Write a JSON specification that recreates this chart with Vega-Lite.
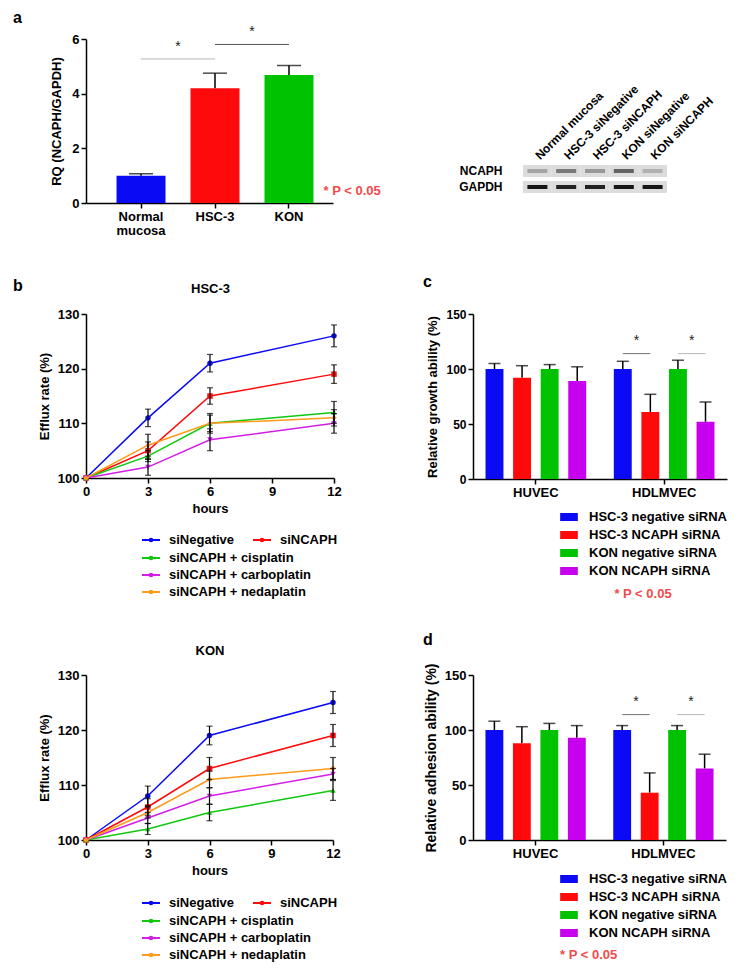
{
  "$schema": "https://vega.github.io/schema/vega-lite/v6.json",
  "background": "white",
  "padding": {"left": 13, "top": 10, "right": 5, "bottom": 5},
  "config": {
    "font": "Liberation Sans",
    "view": {"stroke": null},
    "axis": {"labelFont": "Liberation Sans", "labelFontSize": 13, "labelFontWeight": "bold", "labelColor": "#000", "titleFont": "Liberation Sans", "titleFontSize": 13, "titleFontWeight": "bold", "titleColor": "#000", "domainColor": "#000", "domainWidth": 1.5, "tickColor": "#000", "tickWidth": 1.5, "tickSize": 5, "grid": false, "labelPadding": 2, "labelFlush": false, "labelOverlap": false},
    "legend": {"labelFont": "Liberation Sans", "labelFontSize": 13, "labelFontWeight": "bold", "labelColor": "#000", "titleFont": "Liberation Sans"},
    "title": {"font": "Liberation Sans", "fontSize": 16, "fontWeight": "bold", "color": "#000"}
  },
  "datasets": {
    "rq": [
      {"sample": "Normal mucosa", "value": 1.0, "hi": 1.07},
      {"sample": "HSC-3", "value": 4.2, "hi": 4.75},
      {"sample": "KON", "value": 4.68, "hi": 5.03}
    ],
    "rq_sig": [
      {"from": "Normal mucosa", "to": "HSC-3", "line": 5.27, "star": 5.7, "label": "*"},
      {"from": "HSC-3", "to": "KON", "line": 5.8, "star": 6.25, "label": "*"}
    ],
    "blot": [
      {"lane": "Normal mucosa", "protein": "NCAPH", "intensity": 0.25},
      {"lane": "HSC-3 siNegative", "protein": "NCAPH", "intensity": 0.45},
      {"lane": "HSC-3 siNCAPH", "protein": "NCAPH", "intensity": 0.3},
      {"lane": "KON siNegative", "protein": "NCAPH", "intensity": 0.55},
      {"lane": "KON siNCAPH", "protein": "NCAPH", "intensity": 0.2},
      {"lane": "Normal mucosa", "protein": "GAPDH", "intensity": 0.9},
      {"lane": "HSC-3 siNegative", "protein": "GAPDH", "intensity": 0.85},
      {"lane": "HSC-3 siNCAPH", "protein": "GAPDH", "intensity": 0.85},
      {"lane": "KON siNegative", "protein": "GAPDH", "intensity": 0.9},
      {"lane": "KON siNCAPH", "protein": "GAPDH", "intensity": 0.9}
    ],
    "hsc3": [
      {"series": "siNegative", "hours": 0, "value": 100, "lo": 100, "hi": 100},
      {"series": "siNegative", "hours": 3, "value": 111, "lo": 109.4, "hi": 112.6},
      {"series": "siNegative", "hours": 6, "value": 121, "lo": 119.4, "hi": 122.6},
      {"series": "siNegative", "hours": 12, "value": 126, "lo": 124, "hi": 128},
      {"series": "siNCAPH", "hours": 0, "value": 100, "lo": 100, "hi": 100},
      {"series": "siNCAPH", "hours": 3, "value": 105, "lo": 103.4, "hi": 106.6},
      {"series": "siNCAPH", "hours": 6, "value": 115, "lo": 113.5, "hi": 116.5},
      {"series": "siNCAPH", "hours": 12, "value": 119, "lo": 117.3, "hi": 120.7},
      {"series": "siNCAPH + cisplatin", "hours": 0, "value": 100, "lo": 100, "hi": 100},
      {"series": "siNCAPH + cisplatin", "hours": 3, "value": 104, "lo": 103, "hi": 105},
      {"series": "siNCAPH + cisplatin", "hours": 6, "value": 110, "lo": 108.5, "hi": 111.5},
      {"series": "siNCAPH + cisplatin", "hours": 12, "value": 112, "lo": 110, "hi": 114},
      {"series": "siNCAPH + carboplatin", "hours": 0, "value": 100, "lo": 100, "hi": 100},
      {"series": "siNCAPH + carboplatin", "hours": 3, "value": 102, "lo": 100.5, "hi": 103.5},
      {"series": "siNCAPH + carboplatin", "hours": 6, "value": 107, "lo": 105, "hi": 109},
      {"series": "siNCAPH + carboplatin", "hours": 12, "value": 110, "lo": 108.2, "hi": 111.8},
      {"series": "siNCAPH + nedaplatin", "hours": 0, "value": 100, "lo": 100, "hi": 100},
      {"series": "siNCAPH + nedaplatin", "hours": 3, "value": 106, "lo": 104, "hi": 108},
      {"series": "siNCAPH + nedaplatin", "hours": 6, "value": 110, "lo": 108.2, "hi": 111.8},
      {"series": "siNCAPH + nedaplatin", "hours": 12, "value": 111, "lo": 109.5, "hi": 112.5}
    ],
    "kon": [
      {"series": "siNegative", "hours": 0, "value": 100, "lo": 100, "hi": 100},
      {"series": "siNegative", "hours": 3, "value": 108, "lo": 106.2, "hi": 109.8},
      {"series": "siNegative", "hours": 6, "value": 119, "lo": 117.3, "hi": 120.7},
      {"series": "siNegative", "hours": 12, "value": 125, "lo": 123, "hi": 127},
      {"series": "siNCAPH", "hours": 0, "value": 100, "lo": 100, "hi": 100},
      {"series": "siNCAPH", "hours": 3, "value": 106, "lo": 104.5, "hi": 107.5},
      {"series": "siNCAPH", "hours": 6, "value": 113, "lo": 111, "hi": 115},
      {"series": "siNCAPH", "hours": 12, "value": 119, "lo": 117, "hi": 121},
      {"series": "siNCAPH + cisplatin", "hours": 0, "value": 100, "lo": 100, "hi": 100},
      {"series": "siNCAPH + cisplatin", "hours": 3, "value": 102, "lo": 101, "hi": 103},
      {"series": "siNCAPH + cisplatin", "hours": 6, "value": 105, "lo": 103.5, "hi": 106.5},
      {"series": "siNCAPH + cisplatin", "hours": 12, "value": 109, "lo": 107.2, "hi": 110.8},
      {"series": "siNCAPH + carboplatin", "hours": 0, "value": 100, "lo": 100, "hi": 100},
      {"series": "siNCAPH + carboplatin", "hours": 3, "value": 104, "lo": 103, "hi": 105},
      {"series": "siNCAPH + carboplatin", "hours": 6, "value": 108, "lo": 106.5, "hi": 109.5},
      {"series": "siNCAPH + carboplatin", "hours": 12, "value": 112, "lo": 111, "hi": 113},
      {"series": "siNCAPH + nedaplatin", "hours": 0, "value": 100, "lo": 100, "hi": 100},
      {"series": "siNCAPH + nedaplatin", "hours": 3, "value": 105, "lo": 104, "hi": 106},
      {"series": "siNCAPH + nedaplatin", "hours": 6, "value": 111, "lo": 109.5, "hi": 112.5},
      {"series": "siNCAPH + nedaplatin", "hours": 12, "value": 113, "lo": 111, "hi": 115}
    ],
    "growth": [
      {"cell": "HUVEC", "group": "HSC-3 negative siRNA", "value": 100, "hi": 105},
      {"cell": "HUVEC", "group": "HSC-3 NCAPH siRNA", "value": 92, "hi": 103},
      {"cell": "HUVEC", "group": "KON negative siRNA", "value": 100, "hi": 104},
      {"cell": "HUVEC", "group": "KON NCAPH siRNA", "value": 89, "hi": 102},
      {"cell": "HDLMVEC", "group": "HSC-3 negative siRNA", "value": 100, "hi": 107},
      {"cell": "HDLMVEC", "group": "HSC-3 NCAPH siRNA", "value": 61, "hi": 77},
      {"cell": "HDLMVEC", "group": "KON negative siRNA", "value": 100, "hi": 108},
      {"cell": "HDLMVEC", "group": "KON NCAPH siRNA", "value": 52, "hi": 70}
    ],
    "adhesion": [
      {"cell": "HUVEC", "group": "HSC-3 negative siRNA", "value": 100, "hi": 108},
      {"cell": "HUVEC", "group": "HSC-3 NCAPH siRNA", "value": 88, "hi": 103},
      {"cell": "HUVEC", "group": "KON negative siRNA", "value": 100, "hi": 106},
      {"cell": "HUVEC", "group": "KON NCAPH siRNA", "value": 93, "hi": 104},
      {"cell": "HDLMVEC", "group": "HSC-3 negative siRNA", "value": 100, "hi": 104},
      {"cell": "HDLMVEC", "group": "HSC-3 NCAPH siRNA", "value": 43, "hi": 61},
      {"cell": "HDLMVEC", "group": "KON negative siRNA", "value": 100, "hi": 104},
      {"cell": "HDLMVEC", "group": "KON NCAPH siRNA", "value": 65, "hi": 78}
    ],
    "sig_cd": [
      {"cell": "HDLMVEC", "pair": "HSC-3", "line": 114, "star": 125.5, "label": "*"},
      {"cell": "HDLMVEC", "pair": "KON", "line": 114, "star": 125.5, "label": "*"}
    ]
  },
  "columns": 2,
  "align": "each",
  "spacing": {"column": 42, "row": 30},
  "resolve": {"scale": {"color": "independent", "shape": "independent", "opacity": "independent"}},
  "concat": [
    {
      "title": {"text": "a", "anchor": "start", "frame": "group", "dx": -73, "offset": -1},
      "width": 247, "height": 164,
      "layer": [
        {"data": {"name": "rq"}, "mark": {"type": "rule", "color": "#000", "strokeWidth": 1.5},
         "encoding": {
           "x": {"field": "sample", "type": "nominal", "sort": null, "scale": {"domain": ["Normal mucosa", "HSC-3", "KON"], "paddingInner": 0.338, "paddingOuter": 0.338, "align": 0.61}, "axis": {"title": null, "labelAngle": 0, "labelExpr": "split(datum.label, ' ')", "labelLineHeight": 14}},
           "y": {"field": "value", "type": "quantitative", "scale": {"domain": [0, 6], "nice": false}, "axis": {"title": "RQ (NCAPH/GAPDH)", "values": [0, 2, 4, 6], "titlePadding": 8}},
           "y2": {"field": "hi"}}},
        {"data": {"name": "rq"}, "mark": {"type": "tick", "orient": "horizontal", "color": "#000", "size": 24, "thickness": 1.5},
         "encoding": {"x": {"field": "sample", "type": "nominal", "sort": null}, "y": {"field": "hi", "type": "quantitative", "axis": null}}},
        {"data": {"name": "rq"}, "mark": {"type": "bar"},
         "encoding": {"x": {"field": "sample", "type": "nominal", "sort": null}, "y": {"field": "value", "type": "quantitative", "axis": null},
           "color": {"field": "sample", "type": "nominal", "sort": null, "scale": {"domain": ["Normal mucosa", "HSC-3", "KON"], "range": ["#0a0af5", "#ff0a0a", "#00c200"]}, "legend": null}}},
        {"data": {"name": "rq_sig"}, "transform": [{"filter": "datum.from == 'Normal mucosa'"}], "mark": {"type": "rule", "color": "#b4b4b4", "strokeWidth": 1},
         "encoding": {"x": {"field": "from", "type": "nominal"}, "x2": {"field": "to"}, "y": {"field": "line", "type": "quantitative", "axis": null}}},
        {"data": {"name": "rq_sig"}, "transform": [{"filter": "datum.from == 'HSC-3'"}], "mark": {"type": "rule", "color": "#555555", "strokeWidth": 1},
         "encoding": {"x": {"field": "from", "type": "nominal"}, "x2": {"field": "to"}, "y": {"field": "line", "type": "quantitative", "axis": null}}},
        {"data": {"name": "rq_sig"}, "mark": {"type": "text", "fontSize": 14, "baseline": "middle", "color": "#222"},
         "encoding": {"x": {"field": "from", "type": "nominal", "bandPosition": 1.255}, "text": {"field": "label"},
           "y": {"field": "star", "type": "quantitative", "axis": {"orient": "right", "labels": false, "ticks": false, "domain": false, "title": "* P < 0.05", "titleAngle": 0, "titleAlign": "left", "titleBaseline": "bottom", "titleX": -10, "titleY": 158, "titleColor": "#f24a4a", "titleFontSize": 13}}}}
      ],
      "resolve": {"axis": {"y": "independent"}}
    },
    {
      "width": 254, "height": 205,
      "data": {"name": "blot"},
      "encoding": {
        "x": {"field": "lane", "type": "nominal", "sort": null, "scale": {"domain": ["Normal mucosa", "HSC-3 siNegative", "HSC-3 siNCAPH", "KON siNegative", "KON siNCAPH"], "range": [50, 194], "paddingInner": 0, "paddingOuter": 0},
          "axis": {"orient": "top", "title": null, "domain": false, "ticks": false, "labelAngle": -45, "labelAlign": "left", "labelBaseline": "middle", "labelFontSize": 12, "labelPadding": 4, "offset": -122}},
        "y": {"field": "protein", "type": "nominal", "sort": null, "scale": {"domain": ["NCAPH", "GAPDH"], "range": [126, 154], "paddingInner": 0.25, "paddingOuter": 0},
          "axis": {"title": null, "domain": false, "ticks": false, "labelFontSize": 12, "labelPadding": 2, "offset": -31}}
      },
      "layer": [
        {"mark": {"type": "rect", "color": "#dcdcdc"}},
        {"mark": {"type": "tick", "orient": "horizontal", "color": "#000", "size": 20, "thickness": 4},
         "encoding": {"opacity": {"field": "intensity", "type": "quantitative", "scale": {"domain": [0, 1], "range": [0, 1]}, "legend": null}}}
      ]
    },
    {
      "title": {"text": "b", "anchor": "start", "frame": "group", "dx": -73, "offset": -12},
      "width": 248, "height": 164,
      "data": {"name": "hsc3"},
      "layer": [
        {"transform": [{"filter": {"field": "series", "oneOf": ["siNegative", "siNCAPH"]}}],
         "encoding": {
           "x": {"field": "hours", "type": "quantitative", "scale": {"domain": [0, 12], "nice": false}, "axis": {"values": [0, 3, 6, 9, 12], "title": "hours", "titlePadding": 4}},
           "y": {"field": "value", "type": "quantitative", "scale": {"domain": [100, 130], "nice": false, "zero": false}, "axis": {"values": [100, 110, 120, 130], "title": "Efflux rate (%)", "titlePadding": 6}},
           "color": {"field": "series", "type": "nominal", "sort": null, "scale": {"domain": ["siNegative", "siNCAPH"], "range": ["#0a0af5", "#ff0a0a"]},
             "legend": {"orient": "none", "legendX": 55, "legendY": 216, "columns": 2, "title": null, "symbolType": "M-1,0H1M-0.15,0A0.15,0.15,0,1,0,0.15,0A0.15,0.15,0,1,0,-0.15,0", "symbolSize": 324, "symbolStrokeWidth": 2, "columnPadding": 14, "labelOffset": 8, "rowPadding": 0}}},
         "layer": [
           {"mark": {"type": "line", "strokeWidth": 1.5}},
           {"mark": {"type": "point", "filled": true, "size": 30, "opacity": 1}, "encoding": {"shape": {"condition": [{"test": "datum.series == 'siNCAPH'", "value": "square"}], "value": "circle"}}}
         ]},
        {"transform": [{"filter": {"field": "series", "oneOf": ["siNCAPH + cisplatin", "siNCAPH + carboplatin", "siNCAPH + nedaplatin"]}}],
         "encoding": {
           "x": {"field": "hours", "type": "quantitative", "axis": null},
           "y": {"field": "value", "type": "quantitative"},
           "color": {"field": "series", "type": "nominal", "sort": null, "scale": {"domain": ["siNCAPH + cisplatin", "siNCAPH + carboplatin", "siNCAPH + nedaplatin"], "range": ["#10c810", "#d21ee6", "#ff9a1a"]},
             "legend": {"orient": "none", "legendX": 55, "legendY": 234, "columns": 1, "title": null, "symbolType": "M-1,0H1M-0.15,0A0.15,0.15,0,1,0,0.15,0A0.15,0.15,0,1,0,-0.15,0", "symbolSize": 324, "symbolStrokeWidth": 2, "labelOffset": 8, "rowPadding": 0}}},
         "layer": [
           {"mark": {"type": "line", "strokeWidth": 1.5}},
           {"mark": {"type": "point", "filled": true, "size": 30, "opacity": 1}, "encoding": {"shape": {"condition": [{"test": "datum.series == 'siNCAPH + carboplatin'", "value": "triangle-down"}, {"test": "datum.series == 'siNCAPH + nedaplatin'", "value": "diamond"}], "value": "triangle-up"}}}
         ]},
        {"transform": [{"filter": "datum.hours > 0"}], "mark": {"type": "rule", "color": "#000", "strokeWidth": 1.2},
         "encoding": {"x": {"field": "hours", "type": "quantitative", "axis": null}, "y": {"field": "lo", "type": "quantitative"}, "y2": {"field": "hi"}}},
        {"transform": [{"filter": "datum.hours > 0"}], "mark": {"type": "tick", "orient": "horizontal", "color": "#000", "size": 6, "thickness": 1.2},
         "encoding": {"x": {"field": "hours", "type": "quantitative", "axis": {"orient": "top", "title": "HSC-3", "labels": false, "ticks": false, "domain": false, "titlePadding": 19}}, "y": {"field": "hi", "type": "quantitative"}}},
        {"transform": [{"filter": "datum.hours > 0"}], "mark": {"type": "tick", "orient": "horizontal", "color": "#000", "size": 6, "thickness": 1.2},
         "encoding": {"x": {"field": "hours", "type": "quantitative", "axis": null}, "y": {"field": "lo", "type": "quantitative"}}}
      ],
      "resolve": {"scale": {"color": "independent"}, "axis": {"x": "independent"}}
    },
    {
      "title": {"text": "c", "anchor": "start", "frame": "group", "dx": -50, "offset": 18},
      "width": 254, "height": 165,
      "layer": [
        {"data": {"name": "growth"},
         "encoding": {
           "x": {"field": "cell", "type": "nominal", "sort": null, "scale": {"domain": ["HUVEC", "HDLMVEC"], "paddingInner": 0.14, "paddingOuter": 0.06}, "axis": {"title": null, "labelAngle": 0}},
           "xOffset": {"field": "group", "type": "nominal", "sort": null, "scale": {"domain": ["HSC-3 negative siRNA", "HSC-3 NCAPH siRNA", "KON negative siRNA", "KON NCAPH siRNA"], "paddingInner": 0.35, "paddingOuter": 0.175}},
           "y": {"field": "value", "type": "quantitative", "scale": {"domain": [0, 150], "nice": false}, "axis": {"title": "Relative growth ability (%)", "values": [0, 50, 100, 150], "labelFontSize": 12, "titleFontSize": 13, "titlePadding": 6}}
         },
         "layer": [
           {"mark": {"type": "rule", "color": "#000", "strokeWidth": 1.5}, "encoding": {"y2": {"field": "hi"}}},
           {"mark": {"type": "tick", "orient": "horizontal", "color": "#000", "size": 12, "thickness": 1.5}, "encoding": {"y": {"field": "hi", "type": "quantitative"}}},
           {"mark": {"type": "bar"},
            "encoding": {"color": {"field": "group", "type": "nominal", "sort": null, "scale": {"domain": ["HSC-3 negative siRNA", "HSC-3 NCAPH siRNA", "KON negative siRNA", "KON NCAPH siRNA"], "range": ["#0a0af5", "#ff0a0a", "#00c200", "#c800f0"]},
              "legend": {"orient": "none", "legendX": 87, "legendY": 194, "title": "* P < 0.05", "titleOrient": "bottom", "titleAnchor": "middle", "titleColor": "#f24a4a", "titleFontSize": 13, "titleFontWeight": "bold", "titlePadding": 10, "symbolType": "M-1,-0.45H1V0.45H-1Z", "symbolSize": 313, "symbolStrokeWidth": 0, "labelOffset": 11, "rowPadding": 2}}}}
         ]},
        {"data": {"name": "sig_cd"}, "transform": [{"filter": "datum.pair == 'HSC-3'"}], "mark": {"type": "tick", "orient": "horizontal", "color": "#333", "size": 27.5, "thickness": 1},
         "encoding": {"x": {"field": "cell", "type": "nominal"}, "xOffset": {"field": "pair", "type": "nominal", "scale": {"type": "band", "domain": ["HSC-3", "KON"], "paddingInner": 0, "paddingOuter": 0}}, "y": {"field": "line", "type": "quantitative"}}},
        {"data": {"name": "sig_cd"}, "transform": [{"filter": "datum.pair == 'KON'"}], "mark": {"type": "tick", "orient": "horizontal", "color": "#999", "size": 27.5, "thickness": 1},
         "encoding": {"x": {"field": "cell", "type": "nominal"}, "xOffset": {"field": "pair", "type": "nominal", "scale": {"type": "band", "domain": ["HSC-3", "KON"], "paddingInner": 0, "paddingOuter": 0}}, "y": {"field": "line", "type": "quantitative"}}},
        {"data": {"name": "sig_cd"}, "mark": {"type": "text", "fontSize": 14, "baseline": "middle", "color": "#222"},
         "encoding": {"x": {"field": "cell", "type": "nominal"}, "xOffset": {"field": "pair", "type": "nominal", "scale": {"type": "band", "domain": ["HSC-3", "KON"], "paddingInner": 0, "paddingOuter": 0}}, "y": {"field": "star", "type": "quantitative"}, "text": {"field": "label"}}}
      ],
      "resolve": {"scale": {"xOffset": "independent"}}
    },
    {
      "width": 247, "height": 165,
      "data": {"name": "kon"},
      "layer": [
        {"transform": [{"filter": {"field": "series", "oneOf": ["siNegative", "siNCAPH"]}}],
         "encoding": {
           "x": {"field": "hours", "type": "quantitative", "scale": {"domain": [0, 12], "nice": false}, "axis": {"values": [0, 3, 6, 9, 12], "title": "hours", "titlePadding": 4}},
           "y": {"field": "value", "type": "quantitative", "scale": {"domain": [100, 130], "nice": false, "zero": false}, "axis": {"values": [100, 110, 120, 130], "title": "Efflux rate (%)", "titlePadding": 6}},
           "color": {"field": "series", "type": "nominal", "sort": null, "scale": {"domain": ["siNegative", "siNCAPH"], "range": ["#0a0af5", "#ff0a0a"]},
             "legend": {"orient": "none", "legendX": 55, "legendY": 218, "columns": 2, "title": null, "symbolType": "M-1,0H1M-0.15,0A0.15,0.15,0,1,0,0.15,0A0.15,0.15,0,1,0,-0.15,0", "symbolSize": 324, "symbolStrokeWidth": 2, "columnPadding": 14, "labelOffset": 8, "rowPadding": 0}}},
         "layer": [
           {"mark": {"type": "line", "strokeWidth": 1.5}},
           {"mark": {"type": "point", "filled": true, "size": 30, "opacity": 1}, "encoding": {"shape": {"condition": [{"test": "datum.series == 'siNCAPH'", "value": "square"}], "value": "circle"}}}
         ]},
        {"transform": [{"filter": {"field": "series", "oneOf": ["siNCAPH + cisplatin", "siNCAPH + carboplatin", "siNCAPH + nedaplatin"]}}],
         "encoding": {
           "x": {"field": "hours", "type": "quantitative", "axis": null},
           "y": {"field": "value", "type": "quantitative"},
           "color": {"field": "series", "type": "nominal", "sort": null, "scale": {"domain": ["siNCAPH + cisplatin", "siNCAPH + carboplatin", "siNCAPH + nedaplatin"], "range": ["#10c810", "#d21ee6", "#ff9a1a"]},
             "legend": {"orient": "none", "legendX": 55, "legendY": 236, "columns": 1, "title": null, "symbolType": "M-1,0H1M-0.15,0A0.15,0.15,0,1,0,0.15,0A0.15,0.15,0,1,0,-0.15,0", "symbolSize": 324, "symbolStrokeWidth": 2, "labelOffset": 8, "rowPadding": 0}}},
         "layer": [
           {"mark": {"type": "line", "strokeWidth": 1.5}},
           {"mark": {"type": "point", "filled": true, "size": 30, "opacity": 1}, "encoding": {"shape": {"condition": [{"test": "datum.series == 'siNCAPH + carboplatin'", "value": "triangle-down"}, {"test": "datum.series == 'siNCAPH + nedaplatin'", "value": "diamond"}], "value": "triangle-up"}}}
         ]},
        {"transform": [{"filter": "datum.hours > 0"}], "mark": {"type": "rule", "color": "#000", "strokeWidth": 1.2},
         "encoding": {"x": {"field": "hours", "type": "quantitative", "axis": null}, "y": {"field": "lo", "type": "quantitative"}, "y2": {"field": "hi"}}},
        {"transform": [{"filter": "datum.hours > 0"}], "mark": {"type": "tick", "orient": "horizontal", "color": "#000", "size": 6, "thickness": 1.2},
         "encoding": {"x": {"field": "hours", "type": "quantitative", "axis": {"orient": "top", "title": "KON", "labels": false, "ticks": false, "domain": false, "titlePadding": 18}}, "y": {"field": "hi", "type": "quantitative"}}},
        {"transform": [{"filter": "datum.hours > 0"}], "mark": {"type": "tick", "orient": "horizontal", "color": "#000", "size": 6, "thickness": 1.2},
         "encoding": {"x": {"field": "hours", "type": "quantitative", "axis": null}, "y": {"field": "lo", "type": "quantitative"}}}
      ],
      "resolve": {"scale": {"color": "independent"}, "axis": {"x": "independent"}}
    },
    {
      "title": {"text": "d", "anchor": "start", "frame": "group", "dx": -50, "offset": 15},
      "width": 253, "height": 165,
      "layer": [
        {"data": {"name": "adhesion"},
         "encoding": {
           "x": {"field": "cell", "type": "nominal", "sort": null, "scale": {"domain": ["HUVEC", "HDLMVEC"], "paddingInner": 0.14, "paddingOuter": 0.06}, "axis": {"title": null, "labelAngle": 0}},
           "xOffset": {"field": "group", "type": "nominal", "sort": null, "scale": {"domain": ["HSC-3 negative siRNA", "HSC-3 NCAPH siRNA", "KON negative siRNA", "KON NCAPH siRNA"], "paddingInner": 0.35, "paddingOuter": 0.175}},
           "y": {"field": "value", "type": "quantitative", "scale": {"domain": [0, 150], "nice": false}, "axis": {"title": "Relative adhesion ability (%)", "values": [0, 50, 100, 150], "labelFontSize": 13, "titleFontSize": 14, "titlePadding": 6}}
         },
         "layer": [
           {"mark": {"type": "rule", "color": "#000", "strokeWidth": 1.5}, "encoding": {"y2": {"field": "hi"}}},
           {"mark": {"type": "tick", "orient": "horizontal", "color": "#000", "size": 12, "thickness": 1.5}, "encoding": {"y": {"field": "hi", "type": "quantitative"}}},
           {"mark": {"type": "bar"},
            "encoding": {"color": {"field": "group", "type": "nominal", "sort": null, "scale": {"domain": ["HSC-3 negative siRNA", "HSC-3 NCAPH siRNA", "KON negative siRNA", "KON NCAPH siRNA"], "range": ["#0a0af5", "#ff0a0a", "#00c200", "#c800f0"]},
              "legend": {"orient": "none", "legendX": 87, "legendY": 195, "title": "* P < 0.05", "titleOrient": "bottom", "titleAnchor": "start", "titleColor": "#f24a4a", "titleFontSize": 13, "titleFontWeight": "bold", "titlePadding": 9, "symbolType": "M-1,-0.45H1V0.45H-1Z", "symbolSize": 313, "symbolStrokeWidth": 0, "labelOffset": 11, "rowPadding": 2}}}}
         ]},
        {"data": {"name": "sig_cd"}, "transform": [{"filter": "datum.pair == 'HSC-3'"}], "mark": {"type": "tick", "orient": "horizontal", "color": "#333", "size": 27.5, "thickness": 1},
         "encoding": {"x": {"field": "cell", "type": "nominal"}, "xOffset": {"field": "pair", "type": "nominal", "scale": {"type": "band", "domain": ["HSC-3", "KON"], "paddingInner": 0, "paddingOuter": 0}}, "y": {"field": "line", "type": "quantitative"}}},
        {"data": {"name": "sig_cd"}, "transform": [{"filter": "datum.pair == 'KON'"}], "mark": {"type": "tick", "orient": "horizontal", "color": "#999", "size": 27.5, "thickness": 1},
         "encoding": {"x": {"field": "cell", "type": "nominal"}, "xOffset": {"field": "pair", "type": "nominal", "scale": {"type": "band", "domain": ["HSC-3", "KON"], "paddingInner": 0, "paddingOuter": 0}}, "y": {"field": "line", "type": "quantitative"}}},
        {"data": {"name": "sig_cd"}, "mark": {"type": "text", "fontSize": 14, "baseline": "middle", "color": "#222"},
         "encoding": {"x": {"field": "cell", "type": "nominal"}, "xOffset": {"field": "pair", "type": "nominal", "scale": {"type": "band", "domain": ["HSC-3", "KON"], "paddingInner": 0, "paddingOuter": 0}}, "y": {"field": "star", "type": "quantitative"}, "text": {"field": "label"}}}
      ],
      "resolve": {"scale": {"xOffset": "independent"}}
    }
  ]
}
